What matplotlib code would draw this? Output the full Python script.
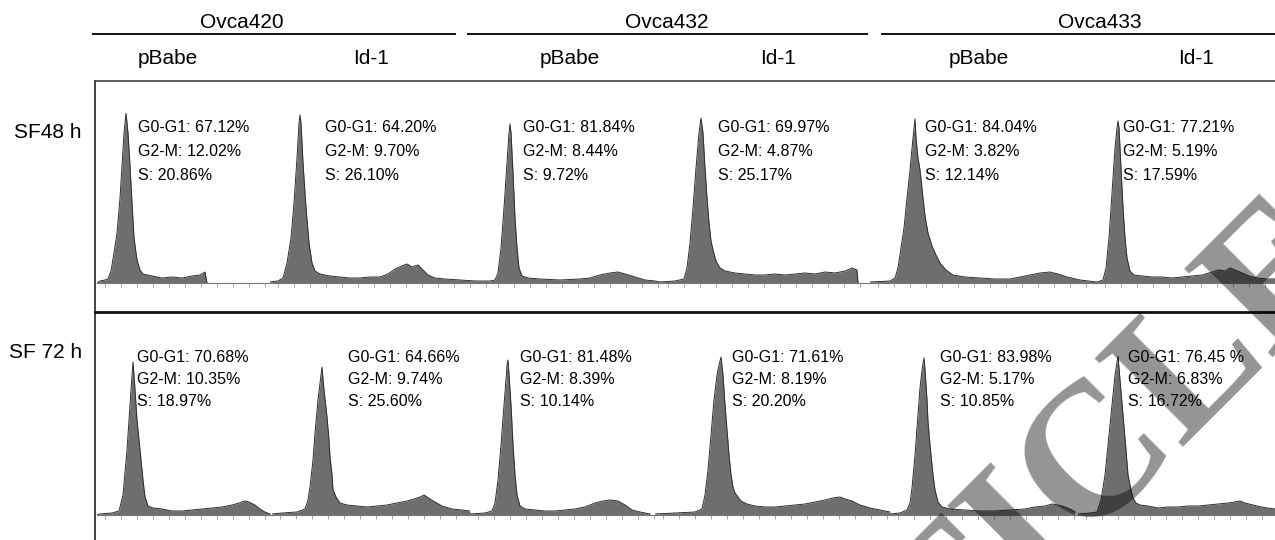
import matplotlib
matplotlib.use("Agg")
import matplotlib.pyplot as plt
from matplotlib.lines import Line2D
import numpy as np

plt.rcParams['font.family'] = ['Liberation Sans', 'DejaVu Sans']

W, H = 1275, 540

# ---- data: DNA histograms, (channel, count) ----
sf48_420_pbabe = [(0, 0), (3, 2), (8, 3), (11, 4), (14, 12), (17, 30), (20, 50), (23, 85), (25, 117),
                  (27, 150), (29, 170), (31, 150), (33, 117), (35, 80), (37, 45), (40, 23), (43, 13),
                  (46, 9), (55, 7), (65, 5), (75, 6), (85, 5), (95, 7), (103, 8), (108, 11), (110, 0)]
sf48_420_id1 = [(0, 1), (8, 2), (13, 5), (17, 20), (21, 45), (24, 80), (27, 125), (29, 160), (30, 168),
                (31, 160), (33, 120), (36, 75), (39, 40), (42, 20), (45, 12), (50, 9), (60, 7), (70, 6),
                (80, 5), (90, 5), (100, 6), (110, 6), (118, 9), (125, 14), (132, 17), (137, 19), (142, 16),
                (148, 18), (153, 13), (158, 8), (165, 5), (175, 4), (190, 3), (205, 2), (220, 2)]
sf48_432_pbabe = [(0, 2), (5, 3), (8, 10), (11, 35), (14, 75), (17, 120), (19, 150), (20, 159), (21, 150),
                  (23, 110), (25, 65), (27, 35), (29, 15), (32, 7), (38, 5), (50, 4), (70, 3), (90, 4),
                  (100, 5), (110, 8), (120, 10), (128, 11), (135, 9), (145, 6), (155, 3), (165, 2), (170, 1)]
sf48_432_id1 = [(0, 1), (15, 2), (24, 4), (27, 15), (30, 40), (33, 75), (36, 115), (39, 150), (41, 165),
                (43, 150), (45, 115), (47, 85), (49, 60), (51, 42), (53, 33), (56, 22), (60, 15), (65, 12),
                (75, 10), (85, 9), (95, 8), (105, 8), (115, 9), (125, 8), (135, 9), (145, 10), (155, 9),
                (165, 11), (175, 10), (185, 12), (192, 15), (197, 13), (198, 0)]
sf48_433_pbabe = [(0, 1), (20, 2), (25, 5), (28, 15), (31, 35), (34, 55), (37, 85), (40, 113), (43, 145),
                  (45, 164), (46, 145), (48, 125), (50, 113), (53, 85), (55, 67), (58, 50), (62, 37),
                  (66, 28), (70, 20), (76, 13), (83, 8), (95, 6), (110, 5), (125, 4), (140, 4), (150, 6),
                  (160, 8), (170, 10), (180, 11), (188, 9), (197, 6), (210, 3), (227, 1)]
sf48_433_id1 = [(0, 1), (6, 3), (9, 15), (12, 45), (15, 90), (18, 135), (20, 155), (21, 162), (22, 155),
                (24, 115), (26, 75), (28, 45), (30, 25), (33, 12), (37, 8), (45, 7), (55, 6), (65, 6),
                (75, 5), (85, 6), (95, 7), (105, 8), (115, 11), (122, 13), (128, 12), (133, 15), (138, 13),
                (145, 10), (152, 7), (160, 5), (170, 4), (178, 4)]

sf72_420_pbabe = [(0, 0), (3, 1), (15, 2), (22, 4), (26, 20), (30, 65), (33, 110), (35, 140), (36, 153),
                  (37, 140), (40, 95), (43, 65), (46, 35), (48, 18), (51, 9), (56, 7), (65, 6), (75, 4),
                  (85, 4), (95, 5), (105, 6), (115, 7), (125, 8), (135, 10), (142, 12), (148, 14),
                  (152, 13), (158, 10), (163, 6), (168, 3), (173, 1)]
sf72_420_id1 = [(0, 1), (10, 2), (25, 3), (33, 6), (36, 15), (38, 28), (41, 55), (43, 82), (46, 115),
                (49, 140), (50, 148), (52, 125), (55, 98), (57, 75), (58, 58), (60, 40), (61, 25), (64, 18),
                (68, 12), (75, 10), (85, 9), (95, 8), (105, 9), (115, 10), (125, 12), (135, 14), (142, 16),
                (148, 18), (152, 20), (158, 16), (163, 13), (170, 9), (180, 6), (190, 5), (198, 4)]
sf72_432_pbabe = [(0, 1), (15, 2), (22, 4), (25, 12), (28, 35), (31, 70), (34, 110), (36, 135), (37, 150),
                  (38, 155), (39, 140), (41, 110), (43, 70), (45, 40), (47, 20), (50, 9), (55, 6), (65, 5),
                  (75, 4), (85, 4), (95, 5), (105, 6), (115, 8), (125, 12), (133, 14), (140, 15),
                  (148, 14), (155, 10), (162, 5), (170, 3), (180, 1)]
sf72_432_id1 = [(0, 1), (20, 2), (40, 3), (47, 6), (50, 20), (53, 45), (56, 80), (59, 115), (62, 140),
                (64, 150), (66, 158), (68, 140), (70, 110), (72, 85), (74, 60), (76, 40), (78, 28), (80, 22),
                (83, 18), (86, 14), (92, 11), (100, 9), (110, 8), (120, 8), (130, 9), (140, 10), (150, 11),
                (160, 13), (170, 15), (178, 17), (185, 18), (190, 16), (197, 14), (205, 10), (215, 7),
                (225, 5), (235, 3)]
sf72_433_pbabe = [(0, 1), (10, 2), (17, 5), (20, 12), (22, 27), (25, 60), (27, 87), (30, 127), (32, 145),
                  (34, 157), (35, 145), (37, 115), (38, 93), (40, 70), (43, 40), (45, 25), (48, 13), (52, 8),
                  (60, 6), (75, 5), (90, 4), (105, 4), (120, 5), (135, 6), (145, 8), (155, 9), (162, 11),
                  (168, 10), (175, 8), (182, 5), (185, 3)]
sf72_433_id1 = [(0, 1), (12, 2), (19, 3), (23, 15), (27, 40), (31, 80), (34, 110), (37, 140), (40, 159),
                (42, 135), (45, 100), (48, 65), (50, 40), (53, 25), (55, 17), (58, 12), (62, 10), (70, 9),
                (80, 7), (90, 8), (100, 8), (110, 9), (120, 9), (130, 10), (140, 11), (150, 12), (157, 13),
                (162, 14), (167, 12), (175, 10), (183, 8), (190, 7), (197, 6)]

# cell-cycle percentages printed on each panel
g1_48 = ["67.12%", "64.20%", "81.84%", "69.97%", "84.04%", "77.21%"]
g2m_48 = ["12.02%", "9.70%", "8.44%", "4.87%", "3.82%", "5.19%"]
s_48 = ["20.86%", "26.10%", "9.72%", "25.17%", "12.14%", "17.59%"]
g1_72 = ["70.68%", "64.66%", "81.48%", "71.61%", "83.98%", "76.45 %"]
g2m_72 = ["10.35%", "9.74%", "8.39%", "8.19%", "5.17%", "6.83%"]
s_72 = ["18.97%", "25.60%", "10.14%", "20.20%", "10.85%", "16.72%"]

cell_lines = ["Ovca420", "Ovca432", "Ovca433"]
vectors = ["pBabe", "Id-1"]
row_labels = ["SF48 h", "SF 72 h"]

# ---- layout (pixels) ----
def fx(x):
    return x / W

def fy(y):
    return 1 - y / H

fig = plt.figure(figsize=(W / 100, H / 100), dpi=100)

def hline(x0, x1, y, lw=1.2, color='#222222'):
    fig.add_artist(Line2D([fx(x0), fx(x1)], [fy(y), fy(y)], lw=lw, color=color,
                          transform=fig.transFigure))

def vline(x, y0, y1, lw=1.2, color='#333333'):
    fig.add_artist(Line2D([fx(x), fx(x)], [fy(y0), fy(y1)], lw=lw, color=color,
                          transform=fig.transFigure))

# headers
for name, cx in zip(cell_lines, [242, 667, 1100]):
    fig.text(fx(cx), fy(22), name, fontsize=15, ha='center', va='center')
for x0, x1 in [(93, 455), (468, 867), (882, 1275)]:
    hline(x0, x1, 34, lw=1.4, color='#111111')
for i, cx in enumerate([168, 371, 570, 778, 979, 1196]):
    fig.text(fx(cx), fy(58), vectors[i % 2], fontsize=15, ha='center', va='center')

# frame
hline(95, 1275, 81, lw=1.2, color='#444444')
vline(95, 81, 540, lw=1.4, color='#444444')
hline(95, 1275, 312, lw=2.0, color='#111111')

fig.text(fx(82), fy(133), row_labels[0], fontsize=15, ha='right', va='center')
fig.text(fx(82), fy(353), row_labels[1], fontsize=15, ha='right', va='center')

rows = [
    dict(hists=[sf48_420_pbabe, sf48_420_id1, sf48_432_pbabe, sf48_432_id1, sf48_433_pbabe, sf48_433_id1],
         edges=[97, 270, 490, 660, 870, 1097, 1275], base=283, top=113,
         g1=g1_48, g2m=g2m_48, s=s_48,
         tx=[138, 325, 523, 718, 925, 1123], ty=[128, 152, 175]),
    dict(hists=[sf72_420_pbabe, sf72_420_id1, sf72_432_pbabe, sf72_432_id1, sf72_433_pbabe, sf72_433_id1],
         edges=[97, 272, 470, 655, 890, 1078, 1275], base=515, top=355,
         g1=g1_72, g2m=g2m_72, s=s_72,
         tx=[137, 348, 520, 732, 940, 1128], ty=[357, 380, 402]),
]

for row in rows:
    for i, pts in enumerate(row['hists']):
        left, right = row['edges'][i], row['edges'][i + 1]
        ax = fig.add_axes([fx(left), fy(row['base']), (right - left) / W, (row['base'] - row['top']) / H])
        ch = [p[0] for p in pts]
        ct = [p[1] for p in pts]
        ax.fill_between(ch, ct, 0, color='#6e6e6e', lw=0)
        ax.plot(ch, ct, color='#2e2e2e', lw=0.7)
        ax.set_xlim(0, right - left)
        ax.set_ylim(0, row['base'] - row['top'])
        ax.patch.set_alpha(0)
        for sp in ['top', 'right', 'left']:
            ax.spines[sp].set_visible(False)
        ax.spines['bottom'].set_color('#777777')
        ax.spines['bottom'].set_linewidth(0.8)
        ax.set_xticks(np.arange(8, right - left, 16))
        ax.tick_params(axis='x', length=3, width=0.6, color='#999999', labelbottom=False)
        ax.set_yticks([])

        x = row['tx'][i]
        fig.text(fx(x), fy(row['ty'][0]), "G0-G1: " + row['g1'][i], fontsize=11.5, va='center')
        fig.text(fx(x), fy(row['ty'][1]), "G2-M: " + row['g2m'][i], fontsize=11.5, va='center')
        fig.text(fx(x), fy(row['ty'][2]), "S: " + row['s'][i], fontsize=11.5, va='center')

# retraction watermark, mostly running off the lower right corner
fig.text(fx(1361), fy(269), "RETRACTED ARTICLE", fontsize=137, family='Liberation Serif',
         weight='bold', rotation=45, rotation_mode='anchor', ha='right', va='baseline',
         color='black', alpha=0.42)

fig.savefig("out.png", dpi=100)
